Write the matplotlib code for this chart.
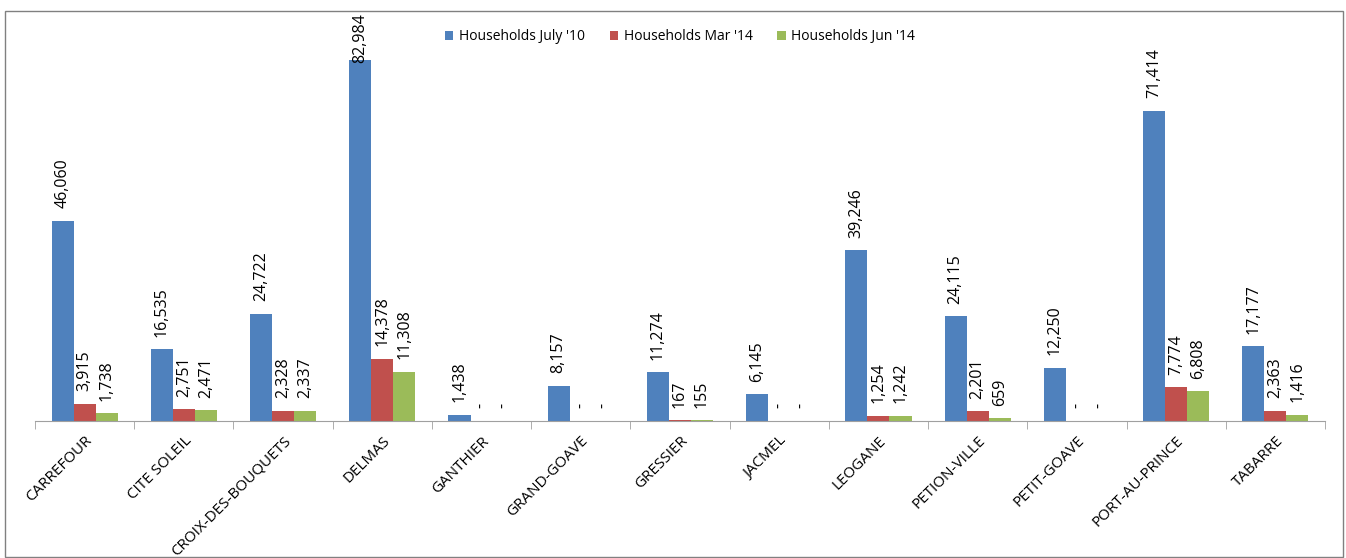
import matplotlib.pyplot as plt
import numpy as np
from matplotlib.patches import Rectangle

# Datos
communes = ['CARREFOUR', 'CITE SOLEIL', 'CROIX-DES-BOUQUETS', 'DELMAS', 'GANTHIER',
            'GRAND-GOAVE', 'GRESSIER', 'JACMEL', 'LEOGANE', 'PETION-VILLE',
            'PETIT-GOAVE', 'PORT-AU-PRINCE', 'TABARRE']
hh_jul10 = [46060, 16535, 24722, 82984, 1438, 8157, 11274, 6145, 39246, 24115, 12250, 71414, 17177]
hh_mar14 = [3915, 2751, 2328, 14378, 0, 0, 167, 0, 1254, 2201, 0, 7774, 2363]
hh_jun14 = [1738, 2471, 2337, 11308, 0, 0, 155, 0, 1242, 659, 0, 6808, 1416]

series = [hh_jul10, hh_mar14, hh_jun14]
labels = ["Households July '10", "Households Mar '14", "Households Jun '14"]
colors = ['#4F81BD', '#C0504D', '#9BBB59']

plt.rcParams['font.family'] = ['Open Sans', 'DejaVu Sans']

W, H = 1346, 558
fig = plt.figure(figsize=(W / 100, H / 100), dpi=100)
ax = fig.add_axes([35 / W, 1 - 421 / H, 1290 / W, 391 / H])

# marco exterior del gráfico
border_top = 11
fig.patches.append(Rectangle((5 / W, 1 / H), 1338 / W, (H - border_top - 1) / H,
                             transform=fig.transFigure, fill=False,
                             edgecolor='#808080', linewidth=1))

x = np.arange(len(communes))
w = 0.222
texts = []
for i, (vals, lab, col) in enumerate(zip(series, labels, colors)):
    pos = x + (i - 1) * w
    ax.bar(pos, vals, width=w, color=col, label=lab)
    for p, v in zip(pos, vals):
        txt = f'{v:,}' if v else '-'
        t = ax.annotate(txt, (p, v), xytext=(0, 9), textcoords='offset points',
                        rotation=90, ha='center', va='bottom', fontsize=11.5,
                        annotation_clip=False)
        texts.append(t)

ax.set_xlim(-0.5, len(communes) - 0.5)
ax.set_ylim(0, 90000)
ax.set_yticks([])
for s in ['top', 'right', 'left']:
    ax.spines[s].set_visible(False)
ax.spines['bottom'].set_color('#A0A0A0')

# marcas entre categorías
ax.set_xticks(np.arange(len(communes) + 1) - 0.5, minor=True)
ax.set_xticks(x)
ax.set_xticklabels(communes, rotation=45, ha='right', rotation_mode='anchor', fontsize=11)
ax.tick_params(axis='x', which='major', length=0, pad=9)
ax.tick_params(axis='x', which='minor', length=6, color='#A0A0A0')

ax.legend(loc='upper center', bbox_to_anchor=(0.5, 1.034), ncol=3, frameon=False,
          fontsize=10, handlelength=0.6, handleheight=0.6, columnspacing=1.8,
          handletextpad=0.4)

# las etiquetas que se salen del marco se bajan (como en Excel)
fig.canvas.draw()
limit = H - border_top - 2
for t in texts:
    bb = t.get_window_extent()
    if bb.y1 > limit:
        dx, dy = t.xyann
        t.xyann = (dx, dy - (bb.y1 - limit) * 72 / fig.dpi)

fig.savefig('out.png', dpi=100)
